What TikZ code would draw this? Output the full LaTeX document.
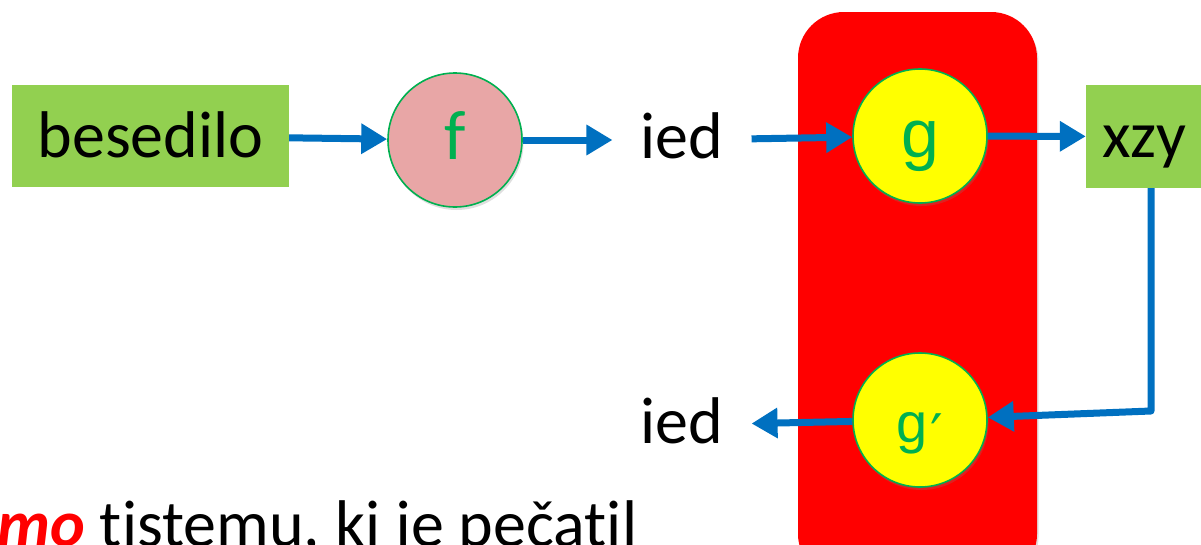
\documentclass[tikz,border=0pt]{standalone}
\usepackage{fontspec}
\setmainfont{Carlito}[Ligatures={NoCommon}]
\newfontfamily\primefont{DejaVu Sans}
\newfontfamily\fnfont{Liberation Sans}
\usetikzlibrary{arrows.meta,shadows}
\definecolor{boxgreen}{HTML}{92D050}
\definecolor{txtgreen}{HTML}{00B050}
\definecolor{fpink}{HTML}{E8A6A6}
\definecolor{flowblue}{HTML}{0070C0}
\definecolor{blockred}{HTML}{FF0000}
\definecolor{fnyellow}{HTML}{FFFF00}
\tikzset{
  softshadow/.style={drop shadow={opacity=0.25,shadow xshift=1.5pt,shadow yshift=-3pt}},
  databox/.style={rectangle,fill=boxgreen,inner sep=0pt,font=\fontsize{66}{70}\selectfont,
    text height=59.4pt,text depth=16.5pt},
  fnode/.style={circle,draw=txtgreen,line width=1.6pt,minimum size=134pt,inner sep=0pt,
    text=txtgreen,font=\fontsize{70}{74}\selectfont,text height=56pt,text depth=17.5pt,softshadow},
  plain/.style={inner xsep=28pt,inner ysep=0pt,font=\fontsize{66}{70}\selectfont,
    text height=52.8pt,text depth=16.5pt},
  flow/.style={draw=flowblue,line width=7pt,-{Triangle[length=26pt,width=29pt]}},
}
\begin{document}
\begin{tikzpicture}[x=1pt,y=-1pt]
\useasboundingbox (0,0) rectangle (1201,544);
\clip (0,0) rectangle (1201,544);

% the block holding g and its inverse
\fill[blockred,rounded corners=46pt,softshadow] (798,12) rectangle (1037,580);

\node[databox,minimum width=277pt,minimum height=102pt] (src) at (150.5,136) {besedilo};
\node[fnode,fill=fpink] (f) at (455,140) {f};
\node[plain] (ied1) at (682,140) {ied};
\node[fnode,fill=fnyellow,font=\fnfont\fontsize{68}{72}\selectfont,text height=56pt,text depth=14pt]
  (g) at (920,136) {g};
\node[databox,minimum width=116pt,minimum height=103pt] (xzy) at (1144,136.5) {xzy};
\node[fnode,fill=fnyellow,font=\fnfont\fontsize{56}{60}\selectfont,text height=58pt,text depth=14pt]
  (gi) at (920,420) {g\kern0.04em\raisebox{-0.22em}{\primefont ′}};
\node[plain] (ied2) at (682,425) {ied};
\coordinate (turn) at (1151,411);

\draw[flow] (src) -- (f);
\draw[flow] (f) -- (ied1);
\draw[flow] (ied1) -- (g);
\draw[flow] (g) -- (xzy);
\draw[flow,line join=round] (xzy.south -| turn) -- (turn) -- (gi);
\draw[flow] (gi) -- (ied2);

\node[anchor=base west,inner sep=0pt,font=\fontsize{66}{70}\selectfont] (caption) at (-3,546)
  {{\color{blockred}\bfseries\itshape mo} tistemu, ki je pečatil};
\end{tikzpicture}
\end{document}
